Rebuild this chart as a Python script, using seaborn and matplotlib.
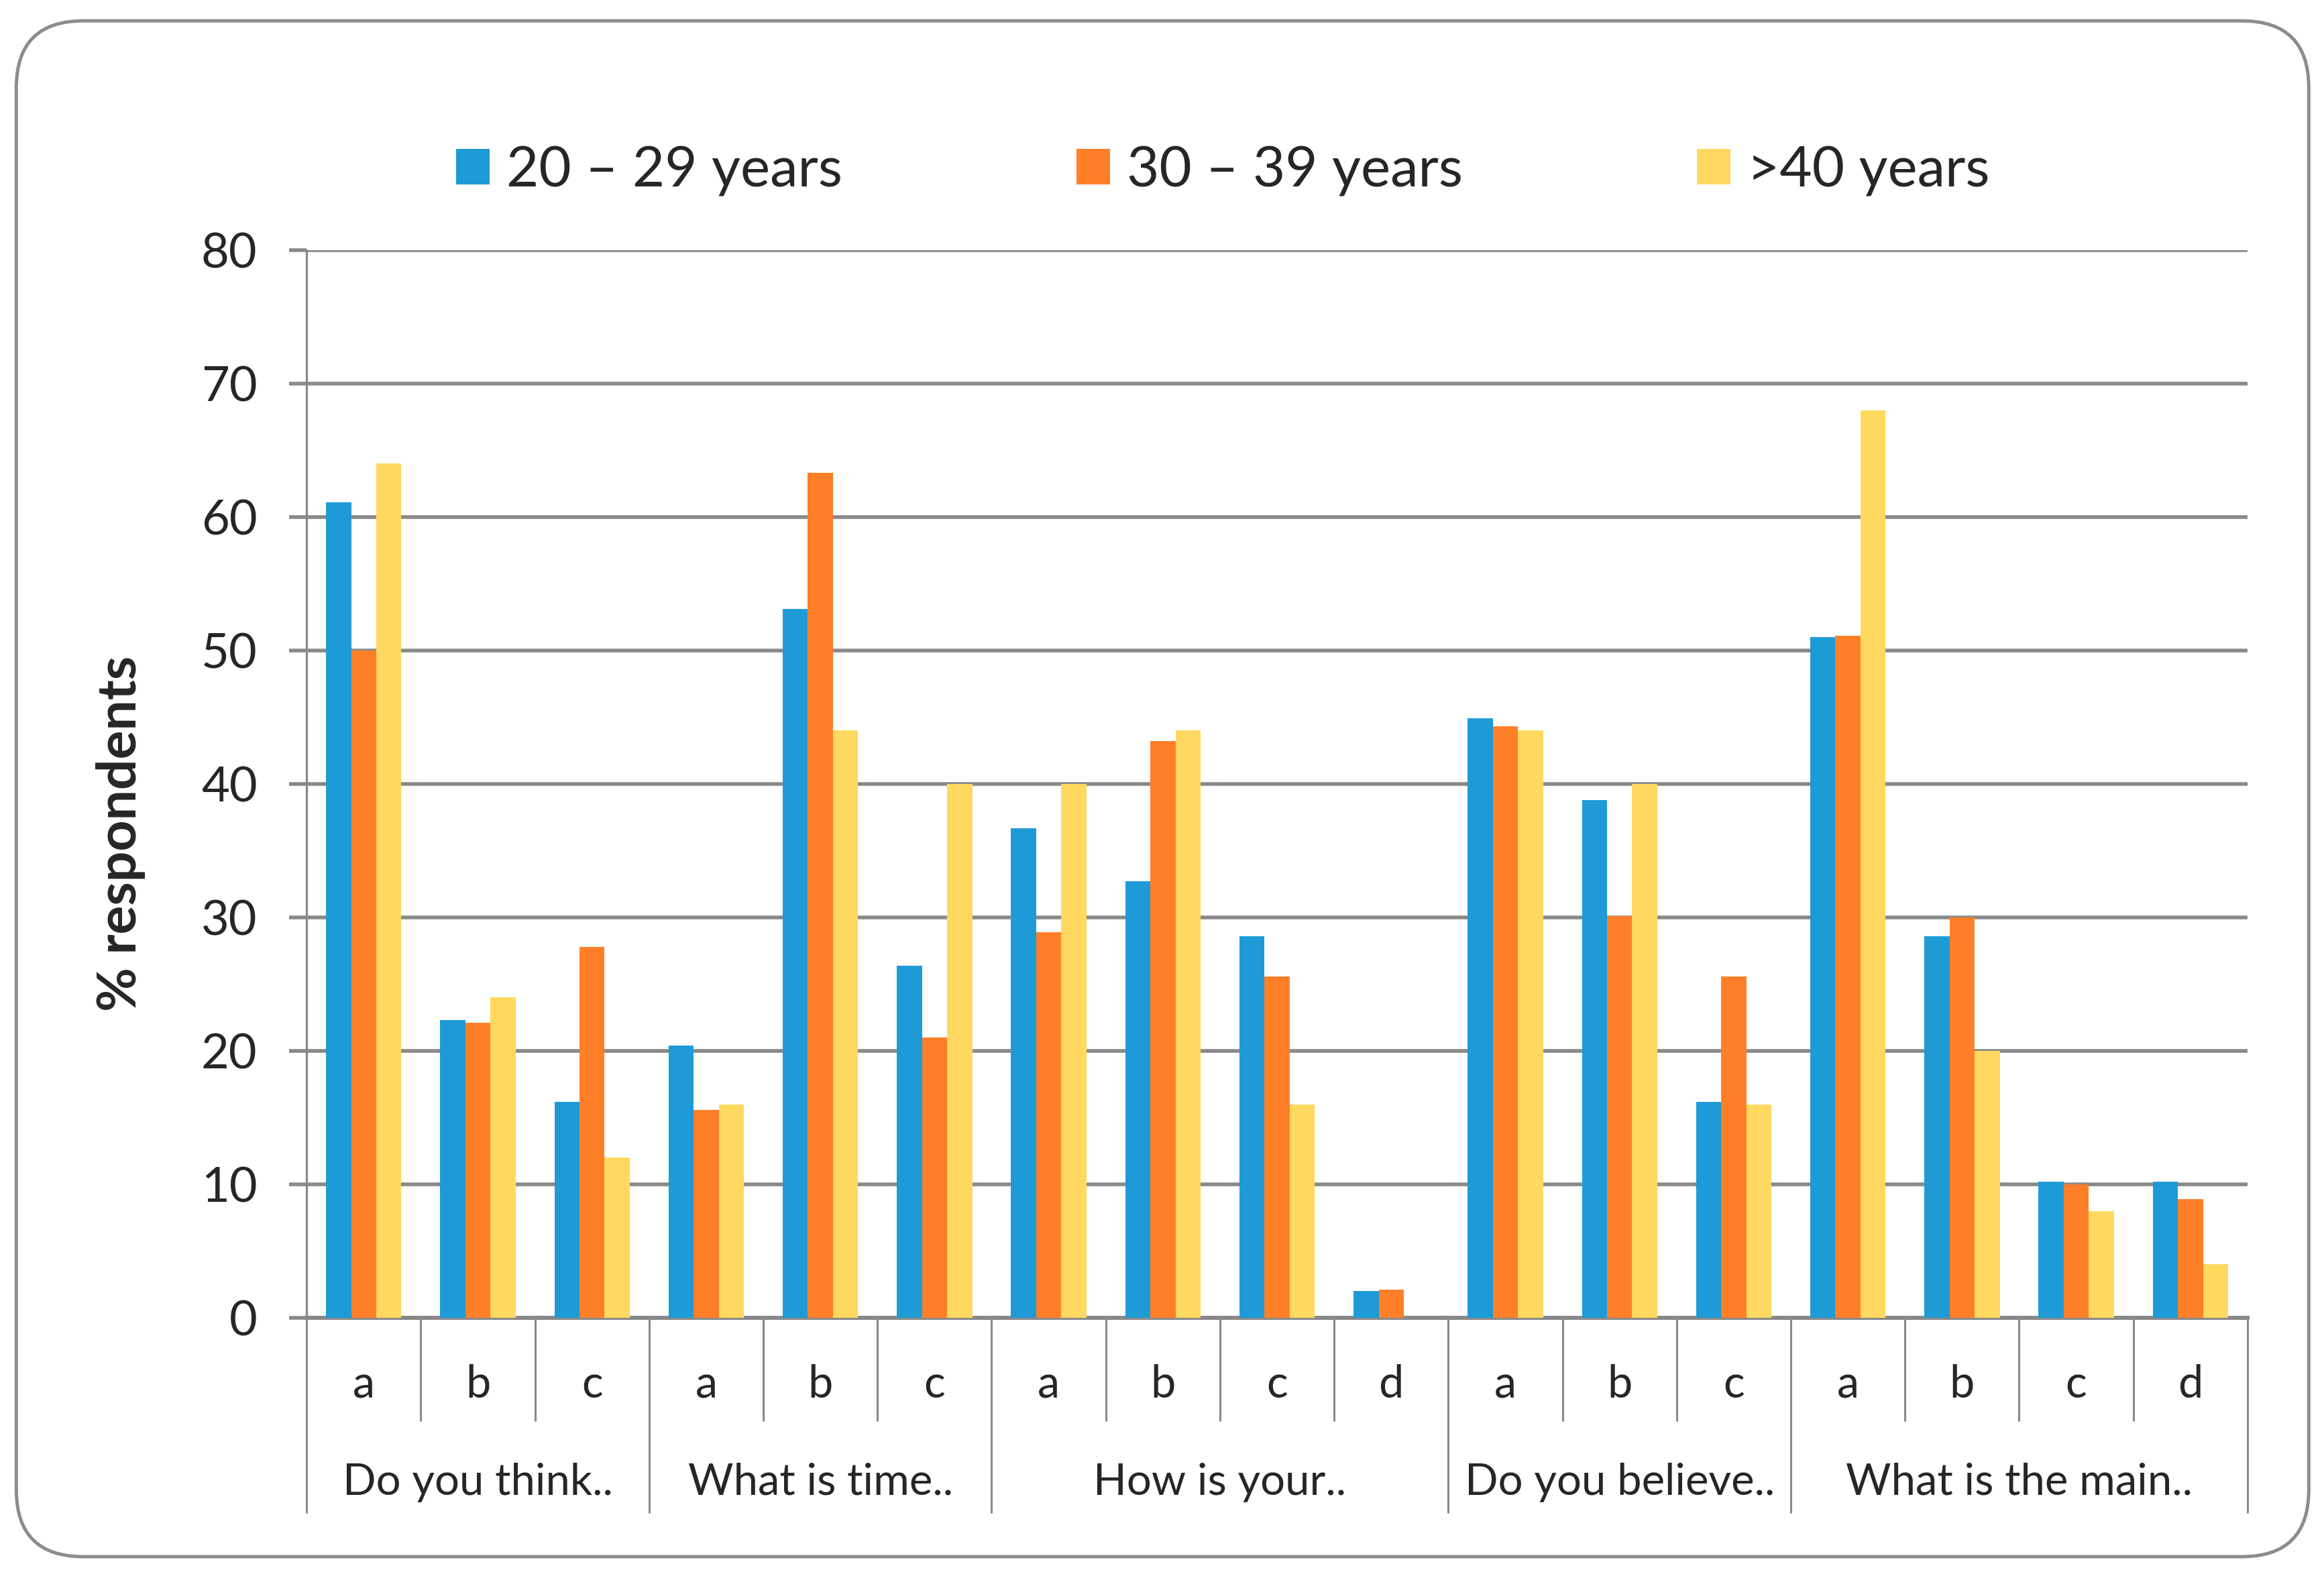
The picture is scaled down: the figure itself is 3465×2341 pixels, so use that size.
import pandas as pd
import seaborn as sns
import matplotlib.pyplot as plt
from matplotlib.patches import FancyBboxPatch
import matplotlib.transforms as mtransforms

# Dữ liệu
groups = ["Do you think..", "What is time..", "How is your..", "Do you believe..", "What is the main.."]
options = [["a", "b", "c"], ["a", "b", "c"], ["a", "b", "c", "d"], ["a", "b", "c"], ["a", "b", "c", "d"]]
ages = ["20 – 29 years", "30 – 39 years", ">40 years"]

v_20_29 = [61.1, 22.3, 16.2, 20.4, 53.1, 26.4, 36.7, 32.7, 28.6, 2.0, 44.9, 38.8, 16.2, 51.0, 28.6, 10.2, 10.2]
v_30_39 = [50.0, 22.1, 27.8, 15.6, 63.3, 21.0, 28.9, 43.2, 25.6, 2.1, 44.3, 30.1, 25.6, 51.1, 30.0, 10.0, 8.9]
v_40 = [64.0, 24.0, 12.0, 16.0, 44.0, 40.0, 40.0, 44.0, 16.0, 0.0, 44.0, 40.0, 16.0, 68.0, 20.0, 8.0, 4.0]

colors = ["#1E9BD7", "#FE7F28", "#FFD95F"]

# Bảng dài cho seaborn
keys, subs = [], []
for g, opts in zip(groups, options):
    for o in opts:
        keys.append(g + "|" + o)
        subs.append(o)

rows = []
for age, vals in zip(ages, [v_20_29, v_30_39, v_40]):
    for k, v in zip(keys, vals):
        rows.append({"key": k, "age": age, "value": v})
df = pd.DataFrame(rows)

sns.set_style("white")
plt.rcParams["font.family"] = ["Lato", "DejaVu Sans"]

fig = plt.figure(figsize=(17.33, 11.705), dpi=200)
ax = fig.add_axes([0.1319, 0.1606, 0.8349, 0.6801])

sns.barplot(data=df, x="key", y="value", hue="age", order=keys, hue_order=ages,
            palette=colors, width=0.66, gap=0, saturation=1, linewidth=0,
            ax=ax, zorder=3)

grid_c = "#898989"
ax.set_ylim(0, 80)
ax.set_xlim(-0.5, len(keys) - 0.5)
ax.set_yticks(range(0, 81, 10))
ax.yaxis.grid(True, color=grid_c, linewidth=2.0, zorder=0)
ax.tick_params(axis="y", labelsize=26, length=9.5, width=2.0, color=grid_c, pad=17, left=True)
ax.set_xticks(range(len(keys)))
ax.set_xticklabels(subs, fontsize=24)
ax.tick_params(axis="x", length=0, pad=25)
ax.set_xlabel("")
ax.set_ylabel("")
for s in ["top", "right"]:
    ax.spines[s].set_visible(False)
ax.spines["left"].set_color(grid_c)
ax.spines["left"].set_linewidth(1.2)
ax.spines["bottom"].set_color(grid_c)
ax.spines["bottom"].set_linewidth(2.2)

# Đường phân cách danh mục
trans = mtransforms.blended_transform_factory(ax.transData, ax.transAxes)
bounds = [-0.5]
pos = -0.5
for opts in options:
    pos += len(opts)
    bounds.append(pos)
for i in range(len(keys) + 1):
    x = -0.5 + i
    low = -0.182 if x in bounds else -0.096
    ax.plot([x, x], [0, low], color=grid_c, linewidth=1.1, transform=trans, clip_on=False)

# Nhãn nhóm
start = 0
for g, opts in zip(groups, options):
    mid = start + (len(opts) - 1) / 2
    ax.text(mid, -0.154, g, transform=trans, ha="center", va="center", fontsize=23.5)
    start += len(opts)

fig.text(0.052, 0.469, "% respondents", rotation=90, ha="center", va="center",
         fontsize=29, fontweight="bold")

sns.move_legend(ax, "center", bbox_to_anchor=(0.526, 0.891), bbox_transform=fig.transFigure,
                ncol=3, frameon=False, title=None, fontsize=30, columnspacing=4.19,
                handlelength=0.6, handleheight=0.6, handletextpad=0.3)

# Khung bo tròn bên ngoài
box = FancyBboxPatch((0.1216, 0.0995), 17.09, 11.45,
                     boxstyle="round,pad=0,rounding_size=0.5",
                     transform=fig.dpi_scale_trans, facecolor="none",
                     edgecolor="#8c8c8c", linewidth=1.8)
fig.add_artist(box)

fig.savefig("out.png", dpi=200, facecolor="white")
